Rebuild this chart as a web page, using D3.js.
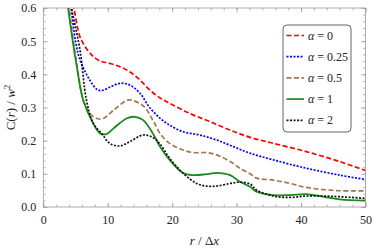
<!DOCTYPE html>
<html>
<head>
<meta charset="utf-8">
<script src="https://cdn.jsdelivr.net/npm/d3@7"></script>
<style>
  body { margin: 0; background: #fff; }
  svg { display: block; font-family: "Liberation Serif", "DejaVu Serif", serif; }
</style>
</head>
<body>
<div id="chart"></div>
<script>
var width = 374;
var height = 249;

// serie: [r/dx, C(r)/w^2]
var alpha0 = [[4.0,0.68],[4.76,0.6],[5.7,0.513],[6.8,0.475],[7.8,0.453],[8.8,0.44],[10.3,0.433],[11.9,0.423],[13.4,0.408],[15,0.383],[16.5,0.353],[18.1,0.329],[19.6,0.313],[22.75,0.282],[25.9,0.257],[29,0.232],[32.1,0.21],[35.7,0.192],[40.8,0.167],[46,0.137],[50,0.11]];
var alpha025 = [[3.7,0.68],[4.3,0.6],[5.0,0.5],[5.7,0.443],[7.2,0.383],[8.3,0.355],[9.05,0.351],[10.3,0.361],[11.9,0.373],[13.4,0.368],[15,0.343],[16.5,0.300],[18.1,0.268],[19.6,0.247],[21.7,0.227],[24.3,0.217],[26.9,0.202],[29.5,0.182],[32.1,0.162],[35.7,0.142],[40.8,0.117],[46,0.096],[50,0.083]];
var alpha05 = [[3.5,0.68],[4.0,0.6],[5.2,0.43],[6.2,0.322],[7.2,0.282],[8.3,0.267],[9.3,0.267],[10.9,0.292],[12.9,0.321],[13.5,0.323],[15.5,0.305],[17,0.262],[18.1,0.222],[19.6,0.192],[21.7,0.172],[23.3,0.164],[25.3,0.164],[26.9,0.157],[29,0.137],[30.5,0.117],[32.1,0.100],[33.1,0.087],[35.7,0.081],[38.3,0.071],[40.8,0.059],[46,0.049],[50,0.049]];
var alpha1 = [[3.4,0.68],[3.85,0.6],[5.2,0.423],[6.2,0.322],[7.75,0.252],[8.8,0.222],[9.8,0.22],[10.9,0.237],[12.9,0.267],[14.2,0.272],[15.5,0.262],[17,0.222],[18.1,0.182],[19.6,0.142],[21.7,0.102],[23.3,0.096],[25.3,0.099],[26.9,0.103],[29,0.096],[30.5,0.076],[32.1,0.061],[33.1,0.046],[35.7,0.036],[38.3,0.036],[40.8,0.039],[43.4,0.031],[46,0.023],[50,0.019]];
var alpha2 = [[3.9,0.68],[4.4,0.6],[5.7,0.473],[6.7,0.322],[7.75,0.252],[9.05,0.222],[10.3,0.192],[11.9,0.184],[13.4,0.197],[15.5,0.217],[17,0.21],[18.1,0.19],[19.6,0.147],[21.7,0.102],[23.8,0.071],[25.3,0.063],[26.9,0.063],[29,0.071],[30.5,0.075],[32.1,0.069],[33.1,0.051],[35.7,0.033],[38.3,0.029],[40.8,0.033],[43.4,0.033],[46,0.031],[50,0.026]];

var seriesNames = ["0", "0.25", "0.5", "1", "2"];
var seriesValues = [alpha0, alpha025, alpha05, alpha1, alpha2];
var seriesColors = ["#ff0000", "#0000ff", "#a0784b", "#1b8a1b", "#111111"];
var seriesDash = ["5,2.5", "2,1.5", "5,2.5", null, "2,1.5"];

var xTicks = [0, 10, 20, 30, 40, 50];
var yTicks = [0.0, 0.1, 0.2, 0.3, 0.4, 0.5, 0.6];

const margin = { top: 8, right: 8.5, bottom: 42, left: 43.3 };
const chartWidth = width - margin.left - margin.right;
const chartHeight = height - margin.top - margin.bottom;

const svg = d3.select("#chart")
  .append("svg")
  .attr("width", width)
  .attr("height", height);

const xScale = d3.scaleLinear().domain([0, 50]).range([0, chartWidth]);
const yScale = d3.scaleLinear().domain([0, 0.6]).range([chartHeight, 0]);

const inner = svg.append("g")
  .attr("transform", `translate(${margin.left},${margin.top})`);

svg.append("defs").append("clipPath").attr("id", "clip")
  .append("rect").attr("width", chartWidth).attr("height", chartHeight);

// tacche del riquadro (stile Mathematica, verso l'interno)
const frameColor = "#9a9a9a";
function frameAxis(axis, transform) {
  const g = inner.append("g").attr("transform", transform).call(axis);
  g.select(".domain").remove();
  g.selectAll("line").attr("stroke", frameColor).attr("stroke-width", 0.7);
  return g;
}
const xMinor = d3.range(0, 51, 2);
const yMinor = d3.range(0, 0.601, 0.02);

frameAxis(d3.axisBottom(xScale).tickValues(xMinor).tickSize(-2.5).tickFormat(""), `translate(0,${chartHeight})`);
frameAxis(d3.axisTop(xScale).tickValues(xMinor).tickSize(-2.5).tickFormat(""), "translate(0,0)");
frameAxis(d3.axisLeft(yScale).tickValues(yMinor).tickSize(-2.5).tickFormat(""), "translate(0,0)");
frameAxis(d3.axisRight(yScale).tickValues(yMinor).tickSize(-2.5).tickFormat(""), `translate(${chartWidth},0)`);

const xAx = frameAxis(d3.axisBottom(xScale).tickValues(xTicks).tickSize(-4.5).tickPadding(8).tickFormat(d3.format("d")), `translate(0,${chartHeight})`);
frameAxis(d3.axisTop(xScale).tickValues(xTicks).tickSize(-4.5).tickFormat(""), "translate(0,0)");
const yAx = frameAxis(d3.axisLeft(yScale).tickValues(yTicks).tickSize(-4.5).tickPadding(7).tickFormat(d3.format(".1f")), "translate(0,0)");
frameAxis(d3.axisRight(yScale).tickValues(yTicks).tickSize(-4.5).tickFormat(""), `translate(${chartWidth},0)`);

xAx.selectAll("text").style("font-size", "12px").style("font-family", "Liberation Serif").attr("fill", "#222");
yAx.selectAll("text").style("font-size", "12px").style("font-family", "Liberation Serif").attr("fill", "#222");

inner.append("rect")
  .attr("width", chartWidth)
  .attr("height", chartHeight)
  .attr("fill", "none")
  .attr("stroke", frameColor)
  .attr("stroke-width", 0.8);

// curve
const line = d3.line()
  .x((d) => xScale(d[0]))
  .y((d) => yScale(d[1]))
  .curve(d3.curveCatmullRom.alpha(0.5));

const curves = inner.append("g").attr("clip-path", "url(#clip)");
seriesValues.forEach((vals, i) => {
  curves.append("path")
    .datum(vals)
    .attr("d", line)
    .attr("fill", "none")
    .attr("stroke", seriesColors[i])
    .attr("stroke-width", i == 3 ? 1.8 : 1.7)
    .attr("stroke-dasharray", seriesDash[i]);
});

// etichette assi
const xLabel = svg.append("text")
  .attr("x", margin.left + chartWidth / 2)
  .attr("y", 245)
  .attr("text-anchor", "middle")
  .style("font-size", "13px")
  .attr("fill", "#222");
xLabel.append("tspan").attr("font-style", "italic").text("r");
xLabel.append("tspan").text(" / Δ");
xLabel.append("tspan").attr("font-style", "italic").text("x");

const yLabel = svg.append("text")
  .attr("transform", `translate(15,${margin.top + chartHeight / 2}) rotate(-90)`)
  .attr("text-anchor", "middle")
  .style("font-size", "13px")
  .attr("fill", "#222");
yLabel.append("tspan").text("C(");
yLabel.append("tspan").attr("font-style", "italic").text("r");
yLabel.append("tspan").text(") / ");
yLabel.append("tspan").attr("font-style", "italic").text("w");
yLabel.append("tspan").attr("dy", -5).style("font-size", "9px").text("2");

// legenda
const legend = svg.append("g").attr("transform", "translate(283,25)");
legend.append("rect")
  .attr("width", 68)
  .attr("height", 107)
  .attr("rx", 4)
  .attr("fill", "#fff")
  .attr("stroke", "#555")
  .attr("stroke-width", 0.9);

seriesNames.forEach((name, i) => {
  const yy = 10.5 + i * 21.2;
  legend.append("line")
    .attr("x1", 3.5).attr("x2", 21)
    .attr("y1", yy).attr("y2", yy)
    .attr("stroke", seriesColors[i])
    .attr("stroke-width", 1.7)
    .attr("stroke-dasharray", seriesDash[i]);
  const t = legend.append("text")
    .attr("x", 25)
    .attr("y", yy + 4)
    .style("font-size", "12px")
    .attr("fill", "#222");
  t.append("tspan").attr("font-style", "italic").text("α");
  t.append("tspan").text(" = " + name);
});
</script>
</body>
</html>
